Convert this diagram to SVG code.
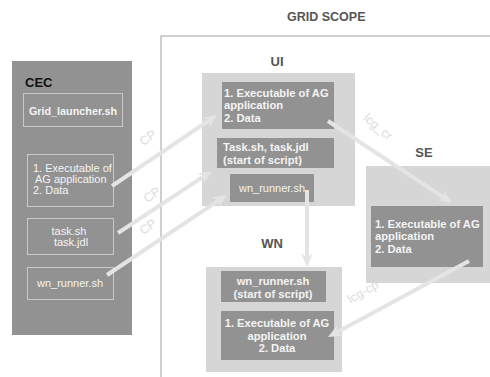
<svg xmlns="http://www.w3.org/2000/svg" width="490" height="377" viewBox="0 0 490 377">
<style>
text{font-family:"Liberation Sans",Arial,sans-serif}
.dark{fill:#929292}
.light{fill:#d6d6d6}
.cbox{fill:#929292;stroke:#c9c9c9;stroke-width:1}
.t{font-size:11px;fill:#f4f4f4}
.tb{font-size:11.2px;font-weight:bold;fill:#f4f4f4}
.lab{font-size:13px;font-weight:bold;fill:#555}
.conn{stroke:#e4e4e4;stroke-width:4;fill:none;marker-end:url(#ah)}
.cl{font-size:12.5px;fill:#dcdcdc}
</style>
<defs>
<marker id="ah" markerUnits="userSpaceOnUse" markerWidth="16" markerHeight="14" refX="6" refY="6" orient="auto">
<path d="M0,0 L14,6 L0,12 L5,6 z" fill="#e4e4e4"/>
</marker>
</defs>
<rect width="490" height="377" fill="#fff"/>
<g id="gridscope">
<rect x="161" y="36" width="340" height="360" fill="none" stroke="#b0b0b0" stroke-width="1.2"/>
<text x="287" y="21" class="lab" style="font-size:12.5px">GRID SCOPE</text>
</g>
<g id="cec">
<rect x="12" y="61" width="120" height="274" class="dark"/>
<text x="25" y="87" font-size="13" font-weight="bold" fill="#111">CEC</text>
</g>
<g id="cec-launcher">
<rect x="23.5" y="93.5" width="99" height="33" class="cbox"/>
<text x="73" y="115" class="tb" text-anchor="middle" style="font-size:10.8px">Grid_launcher.sh</text>
</g>
<g id="cec-exec">
<rect x="27.5" y="154.5" width="86" height="52" class="cbox"/>
<text x="33" y="172" class="t">1. Executable of</text>
<text x="35" y="183" class="t">AG application</text>
<text x="33" y="194" class="t">2. Data</text>
</g>
<g id="cec-task">
<rect x="27.5" y="218.5" width="86" height="36" class="cbox"/>
<text x="69" y="235" class="t" text-anchor="middle">task.sh</text>
<text x="71" y="246" class="t" text-anchor="middle">task.jdl</text>
</g>
<g id="cec-wn">
<rect x="27.5" y="267.5" width="86" height="32" class="cbox"/>
<text x="70" y="287" class="t" text-anchor="middle">wn_runner.sh</text>
</g>
<g id="ui">
<text x="277" y="66" class="lab" text-anchor="middle">UI</text>
<rect x="202" y="73" width="153" height="133" class="light"/>
</g>
<g id="ui-exec">
<rect x="222" y="82" width="112" height="47" class="dark"/>
<text x="224" y="97" class="tb">1. Executable of AG</text>
<text x="224" y="109" class="tb">application</text>
<text x="224" y="122" class="tb">2. Data</text>
</g>
<g id="ui-task">
<rect x="217" y="138" width="117" height="30" class="dark"/>
<text x="223" y="151" class="tb">Task.sh, task.jdl</text>
<text x="223" y="164" class="tb">(start of script)</text>
</g>
<g id="ui-wn">
<rect x="230" y="174" width="84" height="28" class="dark"/>
<text x="272" y="192" class="t" text-anchor="middle">wn_runner.sh</text>
</g>
<g id="se">
<text x="424" y="157" class="lab" text-anchor="middle">SE</text>
<rect x="366" y="166" width="124" height="117" class="light"/>
</g>
<g id="se-exec">
<rect x="371" y="206" width="112" height="61" class="dark"/>
<text x="375" y="228" class="tb">1. Executable of AG</text>
<text x="375" y="240" class="tb">application</text>
<text x="375" y="253" class="tb">2. Data</text>
</g>
<g id="wn">
<text x="272" y="248" class="lab" text-anchor="middle">WN</text>
<rect x="206" y="267" width="136" height="105" class="light"/>
</g>
<g id="wn-runner">
<rect x="221" y="271" width="105" height="31" class="dark"/>
<text x="273" y="285" class="tb" text-anchor="middle">wn_runner.sh</text>
<text x="273" y="298" class="tb" text-anchor="middle">(start of script)</text>
</g>
<g id="wn-exec">
<rect x="221" y="311" width="113" height="49" class="dark"/>
<text x="277" y="327" class="tb" text-anchor="middle">1. Executable of AG</text>
<text x="277" y="340" class="tb" text-anchor="middle">application</text>
<text x="277" y="352" class="tb" text-anchor="middle">2. Data</text>
</g>
<g id="connectors">
<line x1="112" y1="186" x2="210.4" y2="119.5" class="conn"/>
<line x1="118" y1="233" x2="205.3" y2="175.4" class="conn"/>
<line x1="107" y1="275" x2="220.3" y2="199.4" class="conn"/>
<line x1="307" y1="190" x2="307" y2="259" class="conn"/>
<line x1="328" y1="121" x2="445.3" y2="198.6" class="conn"/>
<line x1="469" y1="261" x2="335" y2="333.2" class="conn"/>
<text x="148" y="142" class="cl" text-anchor="middle" transform="rotate(-35 148 138)">CP</text>
<text x="152" y="199" class="cl" text-anchor="middle" transform="rotate(-35 152 195)">CP</text>
<text x="148" y="231" class="cl" text-anchor="middle" transform="rotate(-35 148 227)">CP</text>
<text x="378" y="131" class="cl" text-anchor="middle" transform="rotate(40 378 127)">lcg_cr</text>
<text x="363" y="296" class="cl" text-anchor="middle" transform="rotate(-30 363 292)">lcg-cp</text>
</g>
</svg>
